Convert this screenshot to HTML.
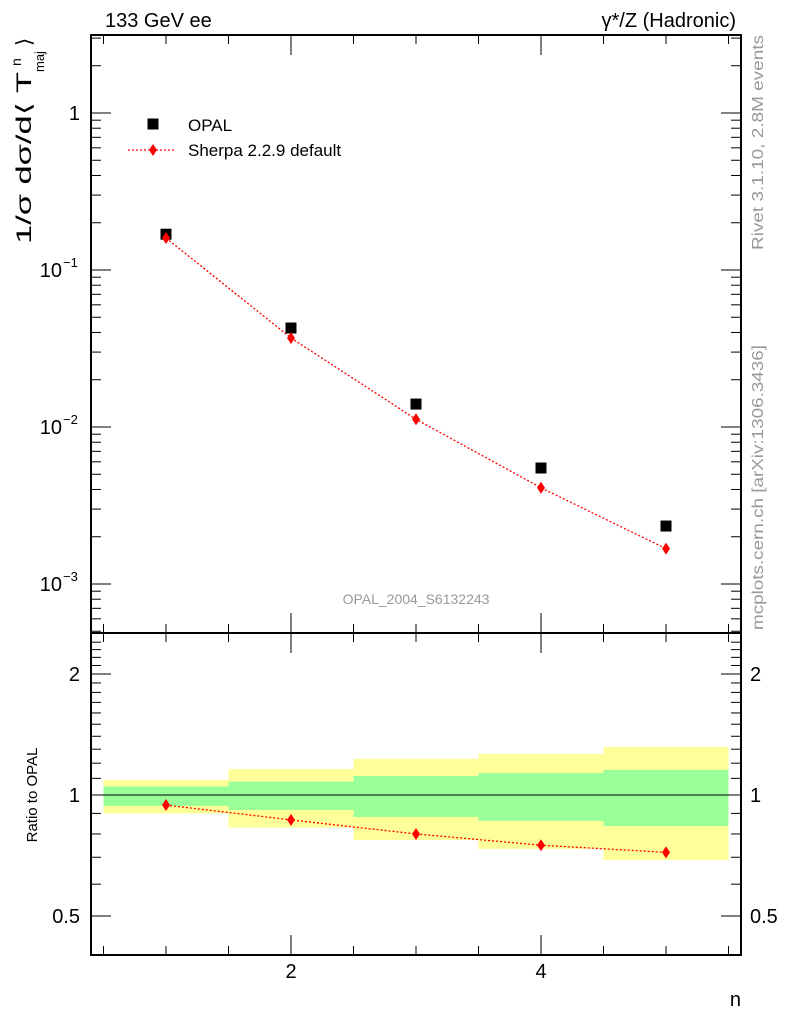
<!DOCTYPE html>
<html><head><meta charset="utf-8"><style>
body{margin:0;background:#fff;}
svg text{font-family:"Liberation Sans",sans-serif;}
</style></head><body>
<svg id="c" width="786" height="1024" xmlns="http://www.w3.org/2000/svg"></svg>
<script>
const nVals=[1,2,3,4,5];
const opal=[0.169,0.0427,0.0140,0.00548,0.00234];
const sherpa=[0.160,0.0369,0.0112,0.00410,0.00168];
const ratio=[0.944,0.867,0.80,0.75,0.72];
const yelUp=[1.09,1.16,1.23,1.265,1.317];
const yelDn=[0.90,0.83,0.773,0.734,0.689];
const grnUp=[1.05,1.08,1.115,1.134,1.154];
const grnDn=[0.94,0.918,0.882,0.862,0.837];
const mainTicks=[1,0.1,0.01,0.001];
const mainTickLabels=["1","10","10","10"];
const mainTickExp=["","−1","−2","−3"];
const ratioTicks=[0.5,1,2];
const xTickLabels=[2,4];

const svg=document.getElementById('c');
const NS="http://www.w3.org/2000/svg";
function el(t,a,p){const e=document.createElementNS(NS,t);for(const k in a)e.setAttribute(k,a[k]);(p||svg).appendChild(e);return e;}
const L=91,R=741,T=35,M=633,B=955;
const X=v=>166+(v-1)*125;
const Y=v=>113-Math.log10(v)*157;
const YR=v=>795-Math.log2(v)*121;

for(let i=0;i<nVals.length;i++){
  const x0=Math.max(X(nVals[i]-0.5),L),x1=Math.min(X(nVals[i]+0.5),R);
  const y=el('rect',{x:x0,y:YR(yelUp[i]),width:x1-x0,height:YR(yelDn[i])-YR(yelUp[i]),fill:'#ffff99'});
  
  
  const g=el('rect',{x:x0,y:YR(grnUp[i]),width:x1-x0,height:YR(grnDn[i])-YR(grnUp[i]),fill:'#99ff99'});
  
  
}
el('line',{x1:L,x2:R,y1:YR(1),y2:YR(1),stroke:'#000','stroke-width':1});

const f1=el('rect',{x:L,y:T,width:R-L,height:M-T,fill:'none',stroke:'#000','stroke-width':2});


const f2=el('rect',{x:L,y:M,width:R-L,height:B-M,fill:'none',stroke:'#000','stroke-width':2});



for(let v=0.5;v<=5.5;v+=0.5){
  const maj=(v===2||v===4);const len=maj?20:9;
  [[T,1],[M,-1],[M,1],[B,-1]].forEach(([y0,d])=>el('line',{x1:X(v),x2:X(v),y1:y0,y2:y0+d*len,stroke:'#000','stroke-width':1}));
}
xTickLabels.forEach(v=>{const t=el('text',{x:X(v),y:978,'font-size':20,'text-anchor':'middle'});t.textContent=v;
  });
const xt=el('text',{x:741,y:1006,'font-size':20,'text-anchor':'end'});xt.textContent='n';


for(let e=-4;e<=0;e++){for(let m=1;m<10;m++){const v=m*Math.pow(10,e);const y=Y(v);if(y<T||y>M)continue;
  const len=m===1?20:10;
  el('line',{x1:L,x2:L+len,y1:y,y2:y,stroke:'#000'});el('line',{x1:R,x2:R-len,y1:y,y2:y,stroke:'#000'});}}
mainTicks.forEach((v,i)=>{const t=el('text',{x:mainTickExp[i]?62:80,y:Y(v)+7,'font-size':20,'text-anchor':'end'});t.textContent=mainTickLabels[i];
  
  if(mainTickExp[i]){const s=el('text',{x:63,y:Y(v)-3,'font-size':13});s.textContent=mainTickExp[i];}});

for(let v=0.4;v<=2.5;v+=0.1){const y=YR(v);if(y<M||y>B)continue;const maj=[0.5,1,2].some(q=>Math.abs(q-v)<1e-6);const len=maj?20:10;
  el('line',{x1:L,x2:L+len,y1:y,y2:y,stroke:'#000'});el('line',{x1:R,x2:R-len,y1:y,y2:y,stroke:'#000'});}
ratioTicks.forEach(v=>{[[80,'end'],[750,'start']].forEach(([x,a])=>{const t=el('text',{x:x,y:YR(v)+7,'font-size':20,'text-anchor':a});t.textContent=v;
  });});

const pl=el('polyline',{points:nVals.map((n,i)=>X(n)+','+Y(sherpa[i])).join(' '),fill:'none',stroke:'#f00','stroke-width':1.3,'stroke-dasharray':'2,2'});

const pr=el('polyline',{points:nVals.map((n,i)=>X(n)+','+YR(ratio[i])).join(' '),fill:'none',stroke:'#f00','stroke-width':1.3,'stroke-dasharray':'2,2'});

function diamond(x,y,name){const d=el('polygon',{points:`${x},${y-6} ${x+4},${y} ${x},${y+6} ${x-4},${y}`,fill:'#f00'});
  }
nVals.forEach((n,i)=>{
  const s=el('rect',{x:X(n)-5.5,y:Y(opal[i])-5.5,width:11,height:11,fill:'#000'});
  
  diamond(X(n),Y(sherpa[i]),'sherpa-point');
  diamond(X(n),YR(ratio[i]),'ratio-point');
});

const lg=el('g',{});
el('rect',{x:147.5,y:118.5,width:11,height:11,fill:'#000'},lg);
let t=el('text',{x:188,y:131,'font-size':17},lg);t.textContent='OPAL';
el('line',{x1:128,x2:176,y1:150,y2:150,stroke:'#f00','stroke-dasharray':'2,2','stroke-width':1.3},lg);
el('polygon',{points:'153,144 157,150 153,156 149,150',fill:'#f00'},lg);
t=el('text',{x:188,y:156,'font-size':17},lg);t.textContent='Sherpa 2.2.9 default';

function txt(s,a,name){const e=el('text',a);e.textContent=s;return e;}
txt('133 GeV ee',{x:105,y:27,'font-size':20},'title-left');
txt('γ*/Z (Hadronic)',{x:736,y:27,'font-size':20,'text-anchor':'end'},'title-right');
txt('OPAL_2004_S6132243',{x:416,y:604,'font-size':14,fill:'#999','text-anchor':'middle'},'analysis-label');
txt('Ratio to OPAL',{x:0,y:0,'font-size':15,transform:'translate(37,795) rotate(-90)','text-anchor':'middle'},'ratio-y-title');
txt('1/σ dσ/d⟨ T',{x:0,y:0,'font-size':21,textLength:172,lengthAdjust:'spacingAndGlyphs',transform:'translate(31,244) rotate(-90)'},'y-axis-title');
txt('n',{x:0,y:0,'font-size':14,transform:'translate(21,66) rotate(-90)'},'y-title-sup');
txt('maj',{x:0,y:0,'font-size':13,transform:'translate(44,72) rotate(-90)'},'y-title-sub');
txt('⟩',{x:0,y:0,'font-size':21,transform:'translate(31,46) rotate(-90)'},'y-title-close');
txt('Rivet 3.1.10,  2.8M events',{x:0,y:0,'font-size':16,fill:'#999',textLength:215,lengthAdjust:'spacingAndGlyphs',transform:'translate(763,250) rotate(-90)'},'rivet-label');
txt('mcplots.cern.ch [arXiv:1306.3436]',{x:0,y:0,'font-size':16,fill:'#999',textLength:285,lengthAdjust:'spacingAndGlyphs',transform:'translate(763,630) rotate(-90)'},'mcplots-label');
</script>
</body></html>
